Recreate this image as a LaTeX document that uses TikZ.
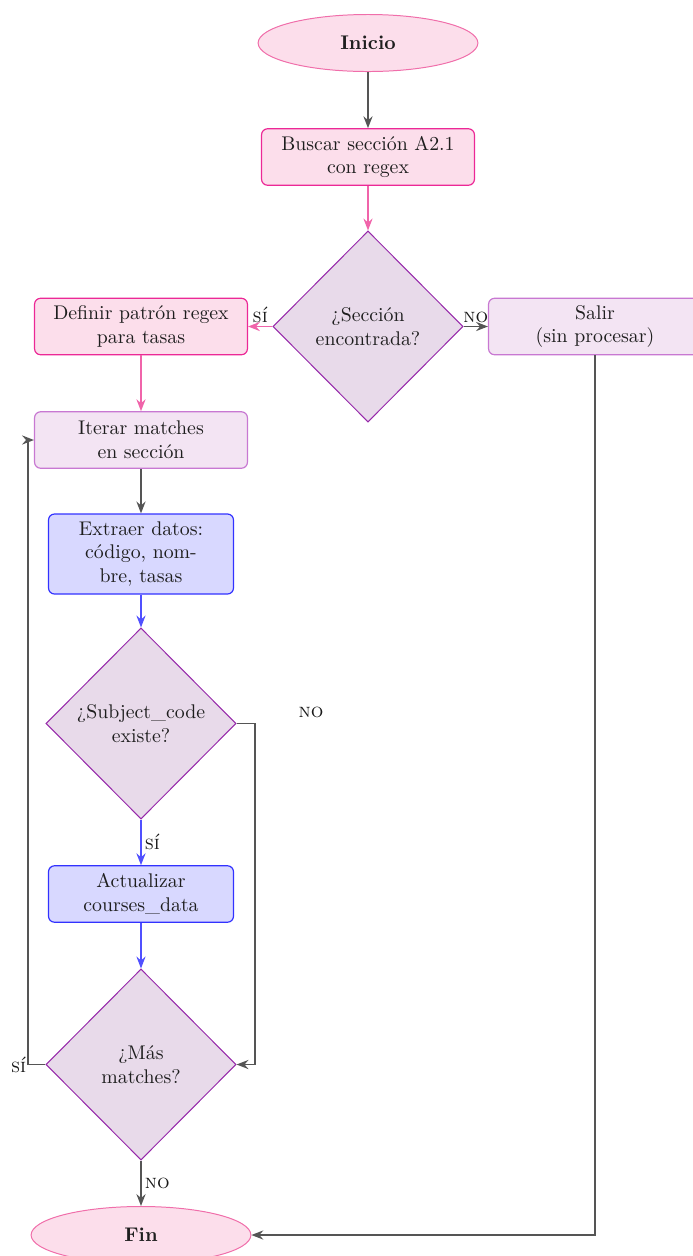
\documentclass[tikz,border=0pt]{standalone}
\usetikzlibrary{shapes.geometric,arrows.meta}

\definecolor{pinkfill}{RGB}{252,222,235}
\definecolor{pinkline}{RGB}{236,40,150}
\definecolor{pinksoft}{RGB}{240,110,170}
\definecolor{pinkarrow}{RGB}{240,100,170}
\definecolor{decfill}{RGB}{232,218,234}
\definecolor{decline}{RGB}{150,40,170}
\definecolor{lavfill}{RGB}{243,228,243}
\definecolor{lavline}{RGB}{200,120,210}
\definecolor{bluefill}{RGB}{216,216,255}
\definecolor{blueline}{RGB}{50,50,255}
\definecolor{bluearrow}{RGB}{80,80,255}
\definecolor{grayarrow}{RGB}{85,85,85}
\definecolor{txt}{RGB}{30,30,30}

\begin{document}
\begin{tikzpicture}[x=0.505pt,y=-0.505pt,
  every node/.style={text=txt},
  term/.style={ellipse, draw=pinksoft, fill=pinkfill, line width=0.5pt,
    minimum width=111pt, minimum height=28.8pt, inner sep=0pt, font=\bfseries},
  procbox/.style={rectangle, rounded corners=3pt, line width=0.6pt,
    align=center, inner sep=0pt, minimum width=107.5pt, minimum height=28.5pt},
  procpink/.style={procbox, draw=pinkline, fill=pinkfill},
  proclav/.style={procbox, draw=lavline, fill=lavfill},
  procblue/.style={procbox, draw=blueline, fill=bluefill, minimum width=93.4pt},
  dec/.style={diamond, draw=decline, fill=decfill, line width=0.5pt,
    minimum width=96pt, minimum height=96.5pt, inner sep=0pt, align=center},
  arr/.style={-{Stealth[length=6pt,width=4.6pt,inset=2pt]}, line width=0.95pt},
  garr/.style={arr, draw=grayarrow},
  parr/.style={arr, draw=pinkarrow},
  barr/.style={arr, draw=bluearrow},
  lbl/.style={font=\scshape, text=txt!85!black, inner sep=1.5pt}
]
\useasboundingbox (0,0) rectangle (693,1256);

% nodes
\node[term] (ini) at (368,43) {Inicio};
\node[procpink] (busc) at (368,157) {Buscar sección A2.1\\con regex};
\node[dec] (d1) at (368,326.5) {¿Sección\\encontrada?};
\node[procpink] (def) at (141,326.5) {Definir patrón regex\\para tasas};
\node[proclav] (salir) at (595,326.5) {Salir\\(sin procesar)};
\node[proclav] (iter) at (141,440) {Iterar matches\\en sección};
\node[procblue, minimum height=40.4pt] (ext) at (141,554) {Extraer datos:\\código, nom-\\bre, tasas};
\node[dec] (d2) at (141,723.5) {¿Subject\_code\\existe?};
\node[procblue] (act) at (141,894) {Actualizar\\courses\_data};
\node[dec] (d3) at (141,1064.5) {¿Más\\matches?};
\node[term] (fin) at (141,1235) {Fin};

% vertical rails of the two loops
\coordinate (leftrail) at (28,0);
\coordinate (rightrail) at (255,0);

% connectors
\draw[garr] (ini) -- (busc);
\draw[parr] (busc) -- (d1);
\draw[parr] (d1.west) -- node[lbl, above] {sí} (def.east);
\draw[garr] (d1.east) -- node[lbl, above] {no} (salir.west);
\draw[parr] (def) -- (iter);
\draw[garr] (iter) -- (ext);
\draw[barr] (ext) -- (d2);
\draw[barr] (d2.south) -- node[lbl, right] {sí} (act.north);
\draw[garr] (d2.east) -- (d2.east -| rightrail) |- (d3.east);
\node[lbl] (nolbl) at (311,712) {no};
\draw[barr] (act) -- (d3);
\draw[garr] (d3.west) -- (d3.west -| leftrail) node[lbl, left, inner sep=0.5pt] {sí} |- (iter.west);
\draw[garr] (d3.south) -- node[lbl, right] {no} (fin.north);
\draw[garr] (salir.south) |- (fin.east);
\end{tikzpicture}
\end{document}
